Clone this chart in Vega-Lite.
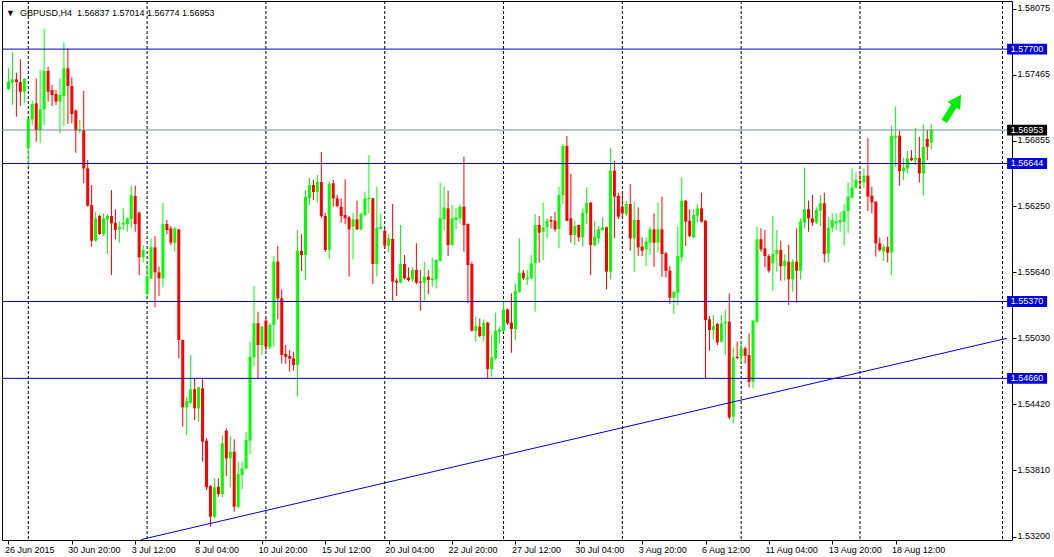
{
  "$schema": "https://vega.github.io/schema/vega-lite/v6.json",
  "autosize": "none",
  "width": 1010,
  "height": 539,
  "padding": {"left": 2, "top": 1, "right": 42, "bottom": 17},
  "background": "white",
  "title": {
    "text": "▼\u00a0\u00a0GBPUSD,H4\u00a0\u00a01.56837 1.57014 1.56774 1.56953",
    "anchor": "start", "frame": "group", "orient": "top", "offset": -24, "dx": 4,
    "font": "Liberation Sans", "fontSize": 9, "fontWeight": "normal", "color": "black", "baseline": "alphabetic"
  },
  "config": {
    "view": {"stroke": "black", "strokeWidth": 1},
    "font": "Liberation Sans"
  },
  "datasets": {
    "candles": [
      {"i":0,"o":1.57332,"h":1.57523,"l":1.57322,"c":1.57399},
      {"i":1,"o":1.57390,"h":1.57670,"l":1.57184,"c":1.57421},
      {"i":2,"o":1.57421,"h":1.57483,"l":1.57076,"c":1.57396},
      {"i":3,"o":1.57396,"h":1.57606,"l":1.57175,"c":1.57307},
      {"i":4,"o":1.57307,"h":1.57436,"l":1.57199,"c":1.57424},
      {"i":5,"o":1.56790,"h":1.57058,"l":1.56615,"c":1.57055},
      {"i":6,"o":1.57052,"h":1.57224,"l":1.56999,"c":1.57193},
      {"i":7,"o":1.57199,"h":1.57430,"l":1.56845,"c":1.56953},
      {"i":8,"o":1.56953,"h":1.57507,"l":1.56830,"c":1.57144},
      {"i":9,"o":1.57144,"h":1.57886,"l":1.56999,"c":1.57498},
      {"i":10,"o":1.57498,"h":1.57538,"l":1.57215,"c":1.57307},
      {"i":11,"o":1.57322,"h":1.57369,"l":1.57175,"c":1.57276},
      {"i":12,"o":1.57286,"h":1.57322,"l":1.57184,"c":1.57215},
      {"i":13,"o":1.57215,"h":1.57430,"l":1.56922,"c":1.57276},
      {"i":14,"o":1.57267,"h":1.57760,"l":1.56990,"c":1.57523},
      {"i":15,"o":1.57523,"h":1.57707,"l":1.57009,"c":1.57359},
      {"i":16,"o":1.57359,"h":1.57439,"l":1.57015,"c":1.57101},
      {"i":17,"o":1.57132,"h":1.57144,"l":1.56744,"c":1.56947},
      {"i":18,"o":1.56947,"h":1.57045,"l":1.56922,"c":1.56959},
      {"i":19,"o":1.56953,"h":1.57316,"l":1.56461,"c":1.56599},
      {"i":20,"o":1.56599,"h":1.56676,"l":1.56245,"c":1.56254},
      {"i":21,"o":1.56261,"h":1.56445,"l":1.55876,"c":1.55931},
      {"i":22,"o":1.55931,"h":1.56199,"l":1.55922,"c":1.56137},
      {"i":23,"o":1.56159,"h":1.56168,"l":1.55984,"c":1.55993},
      {"i":24,"o":1.55993,"h":1.56184,"l":1.55974,"c":1.56137},
      {"i":25,"o":1.56128,"h":1.56177,"l":1.55808,"c":1.56159},
      {"i":26,"o":1.56159,"h":1.56399,"l":1.55614,"c":1.56091},
      {"i":27,"o":1.56097,"h":1.56221,"l":1.55944,"c":1.56030},
      {"i":28,"o":1.56036,"h":1.56107,"l":1.55913,"c":1.56060},
      {"i":29,"o":1.56079,"h":1.56230,"l":1.56030,"c":1.56097},
      {"i":30,"o":1.56085,"h":1.56147,"l":1.56014,"c":1.56137},
      {"i":31,"o":1.56131,"h":1.56436,"l":1.56045,"c":1.56353},
      {"i":32,"o":1.56344,"h":1.56439,"l":1.56014,"c":1.56085},
      {"i":33,"o":1.56190,"h":1.56199,"l":1.55614,"c":1.55777},
      {"i":34,"o":1.55777,"h":1.55891,"l":1.55728,"c":1.55845},
      {"i":35,"o":1.55439,"h":1.55707,"l":1.55399,"c":1.55593},
      {"i":36,"o":1.55583,"h":1.55953,"l":1.55580,"c":1.55870},
      {"i":37,"o":1.55870,"h":1.55974,"l":1.55316,"c":1.55639},
      {"i":38,"o":1.55639,"h":1.55691,"l":1.55420,"c":1.55583},
      {"i":39,"o":1.55583,"h":1.56282,"l":1.55500,"c":1.56085},
      {"i":40,"o":1.56085,"h":1.56122,"l":1.55993,"c":1.56030},
      {"i":41,"o":1.56045,"h":1.56067,"l":1.55891,"c":1.55913},
      {"i":42,"o":1.55913,"h":1.56060,"l":1.55830,"c":1.56045},
      {"i":43,"o":1.56036,"h":1.56040,"l":1.54845,"c":1.55014},
      {"i":44,"o":1.55014,"h":1.55020,"l":1.54214,"c":1.54392},
      {"i":45,"o":1.54392,"h":1.54491,"l":1.54137,"c":1.54451},
      {"i":46,"o":1.54436,"h":1.54876,"l":1.54423,"c":1.54559},
      {"i":47,"o":1.54559,"h":1.54660,"l":1.54275,"c":1.54383},
      {"i":48,"o":1.54383,"h":1.54583,"l":1.54260,"c":1.54577},
      {"i":49,"o":1.54568,"h":1.54651,"l":1.53891,"c":1.54075},
      {"i":50,"o":1.54085,"h":1.54106,"l":1.53629,"c":1.53654},
      {"i":51,"o":1.53666,"h":1.53675,"l":1.53291,"c":1.53383},
      {"i":52,"o":1.53383,"h":1.53737,"l":1.53367,"c":1.53654},
      {"i":53,"o":1.53660,"h":1.53737,"l":1.53568,"c":1.53592},
      {"i":54,"o":1.53592,"h":1.54137,"l":1.53561,"c":1.54060},
      {"i":55,"o":1.54177,"h":1.54199,"l":1.53758,"c":1.53921},
      {"i":56,"o":1.53921,"h":1.54128,"l":1.53654,"c":1.53983},
      {"i":57,"o":1.53983,"h":1.54097,"l":1.53429,"c":1.53475},
      {"i":58,"o":1.53475,"h":1.53891,"l":1.53460,"c":1.53777},
      {"i":59,"o":1.53768,"h":1.53891,"l":1.53635,"c":1.53829},
      {"i":60,"o":1.53829,"h":1.54168,"l":1.53820,"c":1.54091},
      {"i":61,"o":1.54085,"h":1.54999,"l":1.53962,"c":1.54860},
      {"i":62,"o":1.54854,"h":1.55513,"l":1.54774,"c":1.55168},
      {"i":63,"o":1.55168,"h":1.55276,"l":1.54660,"c":1.54968},
      {"i":64,"o":1.54968,"h":1.55143,"l":1.54876,"c":1.55137},
      {"i":65,"o":1.55193,"h":1.55214,"l":1.54916,"c":1.54953},
      {"i":66,"o":1.54946,"h":1.55174,"l":1.54928,"c":1.55153},
      {"i":67,"o":1.55153,"h":1.55790,"l":1.54953,"c":1.55738},
      {"i":68,"o":1.55738,"h":1.55882,"l":1.55205,"c":1.55399},
      {"i":69,"o":1.55399,"h":1.55482,"l":1.54799,"c":1.54876},
      {"i":70,"o":1.54885,"h":1.54968,"l":1.54793,"c":1.54860},
      {"i":71,"o":1.54866,"h":1.54922,"l":1.54722,"c":1.54842},
      {"i":72,"o":1.54845,"h":1.54906,"l":1.54731,"c":1.54783},
      {"i":73,"o":1.54783,"h":1.56030,"l":1.54491,"c":1.55839},
      {"i":74,"o":1.55836,"h":1.55990,"l":1.55651,"c":1.55799},
      {"i":75,"o":1.55799,"h":1.56399,"l":1.55568,"c":1.56335},
      {"i":76,"o":1.56325,"h":1.56510,"l":1.56261,"c":1.56445},
      {"i":77,"o":1.56445,"h":1.56492,"l":1.56307,"c":1.56381},
      {"i":78,"o":1.56381,"h":1.56538,"l":1.56288,"c":1.56473},
      {"i":79,"o":1.56473,"h":1.56750,"l":1.56140,"c":1.56159},
      {"i":80,"o":1.56159,"h":1.56187,"l":1.55827,"c":1.55845},
      {"i":81,"o":1.55845,"h":1.56480,"l":1.55762,"c":1.56455},
      {"i":82,"o":1.56461,"h":1.56492,"l":1.56245,"c":1.56322},
      {"i":83,"o":1.56322,"h":1.56353,"l":1.56239,"c":1.56251},
      {"i":84,"o":1.56245,"h":1.56322,"l":1.56098,"c":1.56159},
      {"i":85,"o":1.56168,"h":1.56498,"l":1.56085,"c":1.56138},
      {"i":86,"o":1.56147,"h":1.56159,"l":1.55599,"c":1.56036},
      {"i":87,"o":1.56061,"h":1.56190,"l":1.55759,"c":1.56128},
      {"i":88,"o":1.56128,"h":1.56301,"l":1.56030,"c":1.56036},
      {"i":89,"o":1.56036,"h":1.56190,"l":1.56024,"c":1.56178},
      {"i":90,"o":1.56168,"h":1.56384,"l":1.56159,"c":1.56322},
      {"i":91,"o":1.56316,"h":1.56722,"l":1.56184,"c":1.56328},
      {"i":92,"o":1.56322,"h":1.56328,"l":1.55531,"c":1.55716},
      {"i":93,"o":1.55716,"h":1.56430,"l":1.55599,"c":1.56051},
      {"i":94,"o":1.56039,"h":1.56184,"l":1.56036,"c":1.56061},
      {"i":95,"o":1.56024,"h":1.56042,"l":1.55861,"c":1.55885},
      {"i":96,"o":1.55885,"h":1.55993,"l":1.55821,"c":1.55953},
      {"i":97,"o":1.55947,"h":1.56270,"l":1.55377,"c":1.55553},
      {"i":98,"o":1.55562,"h":1.55583,"l":1.55420,"c":1.55544},
      {"i":99,"o":1.55544,"h":1.56076,"l":1.55537,"c":1.55716},
      {"i":100,"o":1.55716,"h":1.55799,"l":1.55574,"c":1.55584},
      {"i":101,"o":1.55590,"h":1.55685,"l":1.55553,"c":1.55568},
      {"i":102,"o":1.55574,"h":1.55685,"l":1.55553,"c":1.55660},
      {"i":103,"o":1.55660,"h":1.55907,"l":1.55531,"c":1.55544},
      {"i":104,"o":1.55553,"h":1.55660,"l":1.55285,"c":1.55544},
      {"i":105,"o":1.55544,"h":1.55737,"l":1.55377,"c":1.55599},
      {"i":106,"o":1.55599,"h":1.55660,"l":1.55436,"c":1.55568},
      {"i":107,"o":1.55568,"h":1.55774,"l":1.55507,"c":1.55583},
      {"i":108,"o":1.55574,"h":1.55759,"l":1.55491,"c":1.55753},
      {"i":109,"o":1.55747,"h":1.56467,"l":1.55737,"c":1.56138},
      {"i":110,"o":1.56128,"h":1.56430,"l":1.56030,"c":1.56239},
      {"i":111,"o":1.56230,"h":1.56393,"l":1.55790,"c":1.55891},
      {"i":112,"o":1.55891,"h":1.56261,"l":1.55885,"c":1.56138},
      {"i":113,"o":1.56122,"h":1.56230,"l":1.56036,"c":1.56147},
      {"i":114,"o":1.56138,"h":1.56267,"l":1.56091,"c":1.56245},
      {"i":115,"o":1.56245,"h":1.56707,"l":1.55830,"c":1.56076},
      {"i":116,"o":1.56085,"h":1.56091,"l":1.55353,"c":1.55707},
      {"i":117,"o":1.55716,"h":1.55737,"l":1.55091,"c":1.55100},
      {"i":118,"o":1.55100,"h":1.55230,"l":1.54999,"c":1.55143},
      {"i":119,"o":1.55137,"h":1.55214,"l":1.55039,"c":1.55051},
      {"i":120,"o":1.55051,"h":1.55205,"l":1.54999,"c":1.55174},
      {"i":121,"o":1.55174,"h":1.55183,"l":1.54660,"c":1.54746},
      {"i":122,"o":1.54746,"h":1.55060,"l":1.54675,"c":1.54854},
      {"i":123,"o":1.54845,"h":1.55267,"l":1.54830,"c":1.55100},
      {"i":124,"o":1.55091,"h":1.55137,"l":1.54983,"c":1.55112},
      {"i":125,"o":1.55100,"h":1.55368,"l":1.55091,"c":1.55297},
      {"i":126,"o":1.55297,"h":1.55306,"l":1.55153,"c":1.55168},
      {"i":127,"o":1.55174,"h":1.55445,"l":1.54897,"c":1.55116},
      {"i":128,"o":1.55116,"h":1.55537,"l":1.55014,"c":1.55467},
      {"i":129,"o":1.55460,"h":1.55953,"l":1.55451,"c":1.55636},
      {"i":130,"o":1.55636,"h":1.55660,"l":1.55568,"c":1.55584},
      {"i":131,"o":1.55574,"h":1.55660,"l":1.55522,"c":1.55590},
      {"i":132,"o":1.55584,"h":1.55799,"l":1.55574,"c":1.55722},
      {"i":133,"o":1.55722,"h":1.56178,"l":1.55276,"c":1.56076},
      {"i":134,"o":1.56076,"h":1.56159,"l":1.55728,"c":1.56005},
      {"i":135,"o":1.56014,"h":1.56282,"l":1.55753,"c":1.56055},
      {"i":136,"o":1.56055,"h":1.56138,"l":1.55953,"c":1.56116},
      {"i":137,"o":1.56122,"h":1.56159,"l":1.56045,"c":1.56107},
      {"i":138,"o":1.56116,"h":1.56199,"l":1.56014,"c":1.56036},
      {"i":139,"o":1.56039,"h":1.56430,"l":1.55861,"c":1.56353},
      {"i":140,"o":1.56353,"h":1.56824,"l":1.56270,"c":1.56806},
      {"i":141,"o":1.56806,"h":1.56898,"l":1.56110,"c":1.56116},
      {"i":142,"o":1.56138,"h":1.56547,"l":1.55913,"c":1.55984},
      {"i":143,"o":1.55984,"h":1.56116,"l":1.55891,"c":1.56067},
      {"i":144,"o":1.56076,"h":1.56080,"l":1.55922,"c":1.55962},
      {"i":145,"o":1.55962,"h":1.56230,"l":1.55876,"c":1.56190},
      {"i":146,"o":1.56184,"h":1.56424,"l":1.56085,"c":1.56282},
      {"i":147,"o":1.56282,"h":1.56290,"l":1.55614,"c":1.55891},
      {"i":148,"o":1.55891,"h":1.56116,"l":1.55876,"c":1.55968},
      {"i":149,"o":1.55953,"h":1.56067,"l":1.55907,"c":1.56036},
      {"i":150,"o":1.56030,"h":1.56147,"l":1.56024,"c":1.56055},
      {"i":151,"o":1.56055,"h":1.56061,"l":1.55482,"c":1.55645},
      {"i":152,"o":1.55645,"h":1.56784,"l":1.55574,"c":1.56578},
      {"i":153,"o":1.56578,"h":1.56670,"l":1.55953,"c":1.56338},
      {"i":154,"o":1.56344,"h":1.56375,"l":1.56128,"c":1.56153},
      {"i":155,"o":1.56245,"h":1.56375,"l":1.56147,"c":1.56184},
      {"i":156,"o":1.56178,"h":1.56301,"l":1.56159,"c":1.56270},
      {"i":157,"o":1.56270,"h":1.56455,"l":1.55839,"c":1.55953},
      {"i":158,"o":1.55953,"h":1.56291,"l":1.55645,"c":1.56122},
      {"i":159,"o":1.56122,"h":1.56239,"l":1.55790,"c":1.55870},
      {"i":160,"o":1.55876,"h":1.55962,"l":1.55790,"c":1.55839},
      {"i":161,"o":1.55851,"h":1.55962,"l":1.55697,"c":1.55922},
      {"i":162,"o":1.55913,"h":1.56061,"l":1.55799,"c":1.56036},
      {"i":163,"o":1.56036,"h":1.56184,"l":1.55691,"c":1.55913},
      {"i":164,"o":1.55913,"h":1.56282,"l":1.55820,"c":1.56036},
      {"i":165,"o":1.56036,"h":1.56338,"l":1.55599,"c":1.55808},
      {"i":166,"o":1.55814,"h":1.55829,"l":1.55593,"c":1.55654},
      {"i":167,"o":1.55654,"h":1.55696,"l":1.55347,"c":1.55405},
      {"i":168,"o":1.55405,"h":1.55465,"l":1.55254,"c":1.55460},
      {"i":169,"o":1.55451,"h":1.56061,"l":1.55337,"c":1.55790},
      {"i":170,"o":1.55778,"h":1.56516,"l":1.55737,"c":1.56301},
      {"i":171,"o":1.56301,"h":1.56305,"l":1.55882,"c":1.56107},
      {"i":172,"o":1.56116,"h":1.56221,"l":1.55962,"c":1.55974},
      {"i":173,"o":1.55962,"h":1.56221,"l":1.55953,"c":1.56168},
      {"i":174,"o":1.56162,"h":1.56270,"l":1.56098,"c":1.56230},
      {"i":175,"o":1.56230,"h":1.56375,"l":1.56098,"c":1.56107},
      {"i":176,"o":1.56116,"h":1.56120,"l":1.54660,"c":1.55199},
      {"i":177,"o":1.55205,"h":1.55236,"l":1.54916,"c":1.55106},
      {"i":178,"o":1.55106,"h":1.55245,"l":1.55020,"c":1.55143},
      {"i":179,"o":1.55162,"h":1.55174,"l":1.54968,"c":1.54993},
      {"i":180,"o":1.54999,"h":1.55245,"l":1.54990,"c":1.55168},
      {"i":181,"o":1.55168,"h":1.55291,"l":1.54876,"c":1.55183},
      {"i":182,"o":1.55183,"h":1.55445,"l":1.54281,"c":1.54300},
      {"i":183,"o":1.54306,"h":1.54946,"l":1.54245,"c":1.54854},
      {"i":184,"o":1.54860,"h":1.54999,"l":1.54836,"c":1.54848},
      {"i":185,"o":1.54866,"h":1.55008,"l":1.54799,"c":1.54937},
      {"i":186,"o":1.54937,"h":1.54953,"l":1.54799,"c":1.54869},
      {"i":187,"o":1.54875,"h":1.55075,"l":1.54577,"c":1.54629},
      {"i":188,"o":1.54629,"h":1.55199,"l":1.54568,"c":1.55193},
      {"i":189,"o":1.55183,"h":1.56061,"l":1.55174,"c":1.55944},
      {"i":190,"o":1.55944,"h":1.56045,"l":1.55829,"c":1.55851},
      {"i":191,"o":1.55860,"h":1.56030,"l":1.55685,"c":1.55790},
      {"i":192,"o":1.55790,"h":1.55808,"l":1.55636,"c":1.55654},
      {"i":193,"o":1.55722,"h":1.56159,"l":1.55469,"c":1.55808},
      {"i":194,"o":1.55808,"h":1.56030,"l":1.55645,"c":1.55845},
      {"i":195,"o":1.55845,"h":1.55931,"l":1.55562,"c":1.55696},
      {"i":196,"o":1.55696,"h":1.55808,"l":1.55562,"c":1.55746},
      {"i":197,"o":1.55737,"h":1.55892,"l":1.55337,"c":1.55574},
      {"i":198,"o":1.55574,"h":1.55759,"l":1.55460,"c":1.55737},
      {"i":199,"o":1.55737,"h":1.56045,"l":1.55358,"c":1.55654},
      {"i":200,"o":1.55654,"h":1.56138,"l":1.55574,"c":1.56107},
      {"i":201,"o":1.56098,"h":1.56608,"l":1.56045,"c":1.56221},
      {"i":202,"o":1.56221,"h":1.56301,"l":1.56014,"c":1.56138},
      {"i":203,"o":1.56138,"h":1.56353,"l":1.56067,"c":1.56098},
      {"i":204,"o":1.56098,"h":1.56239,"l":1.56085,"c":1.56215},
      {"i":205,"o":1.56208,"h":1.56353,"l":1.56067,"c":1.56276},
      {"i":206,"o":1.56276,"h":1.56375,"l":1.55728,"c":1.55808},
      {"i":207,"o":1.55814,"h":1.56153,"l":1.55731,"c":1.56051},
      {"i":208,"o":1.56051,"h":1.56184,"l":1.56014,"c":1.56122},
      {"i":209,"o":1.56091,"h":1.56184,"l":1.56030,"c":1.56107},
      {"i":210,"o":1.56101,"h":1.56199,"l":1.56014,"c":1.56122},
      {"i":211,"o":1.56107,"h":1.56267,"l":1.55885,"c":1.56205},
      {"i":212,"o":1.56205,"h":1.56470,"l":1.55999,"c":1.56338},
      {"i":213,"o":1.56328,"h":1.56599,"l":1.56322,"c":1.56421},
      {"i":214,"o":1.56421,"h":1.56562,"l":1.56415,"c":1.56492},
      {"i":215,"o":1.56482,"h":1.56553,"l":1.56408,"c":1.56470},
      {"i":216,"o":1.56470,"h":1.56599,"l":1.56415,"c":1.56532},
      {"i":217,"o":1.56532,"h":1.56882,"l":1.56205,"c":1.56338},
      {"i":218,"o":1.56347,"h":1.56430,"l":1.56184,"c":1.56285},
      {"i":219,"o":1.56291,"h":1.56295,"l":1.55784,"c":1.55907},
      {"i":220,"o":1.55907,"h":1.55959,"l":1.55830,"c":1.55845},
      {"i":221,"o":1.55830,"h":1.55898,"l":1.55744,"c":1.55876},
      {"i":222,"o":1.55876,"h":1.55968,"l":1.55731,"c":1.55820},
      {"i":223,"o":1.55823,"h":1.56993,"l":1.55614,"c":1.56901},
      {"i":224,"o":1.56883,"h":1.57169,"l":1.56615,"c":1.56901},
      {"i":225,"o":1.56901,"h":1.56944,"l":1.56441,"c":1.56573},
      {"i":226,"o":1.56573,"h":1.56698,"l":1.56490,"c":1.56605},
      {"i":227,"o":1.56599,"h":1.56759,"l":1.56552,"c":1.56690},
      {"i":228,"o":1.56696,"h":1.56768,"l":1.56665,"c":1.56674},
      {"i":229,"o":1.56674,"h":1.56973,"l":1.56628,"c":1.56696},
      {"i":230,"o":1.56696,"h":1.56890,"l":1.56468,"c":1.56552},
      {"i":231,"o":1.56552,"h":1.57005,"l":1.56347,"c":1.56798},
      {"i":232,"o":1.56870,"h":1.56953,"l":1.56674,"c":1.56798},
      {"i":233,"o":1.56837,"h":1.57014,"l":1.56774,"c":1.56953}
    ],
    "levels": [
      {"p":1.57700,"k":"line"},
      {"p":1.56953,"k":"bid"},
      {"p":1.56644,"k":"line"},
      {"p":1.55370,"k":"line"},
      {"p":1.54660,"k":"line"}
    ],
    "grid": [{"g":5},{"g":35},{"g":65},{"g":95},{"g":125},{"g":155},{"g":185},{"g":215},{"g":251}],
    "trend": [{"i":33.5,"p":1.53172},{"i":252.1,"p":1.5503}]
  },
  "layer": [
    {
      "data": {"name": "grid"},
      "mark": {"type": "rule", "color": "black", "strokeWidth": 1, "strokeDash": [3, 2]},
      "encoding": {
        "x": {"field": "g", "type": "quantitative",
          "scale": {"domain": [-0.375, 252.125], "nice": false, "zero": false},
          "axis": {"orient": "bottom", "values": [0,16,32,48,64,80,96,112,128,144,160,176,192,208,224],
            "labelExpr": "['26 Jun 2015','30 Jun 20:00','3 Jul 12:00','8 Jul 04:00','10 Jul 20:00','15 Jul 12:00','20 Jul 04:00','22 Jul 20:00','27 Jul 12:00','30 Jul 04:00','3 Aug 20:00','6 Aug 12:00','11 Aug 04:00','13 Aug 20:00','18 Aug 12:00'][round(datum.value/16)]",
            "labelAlign": "left", "labelBaseline": "top", "labelPadding": 1, "labelOffset": -4, "tickSize": 4, "tickColor": "black",
            "labelFont": "Liberation Sans", "labelFontSize": 9, "labelColor": "black",
            "domain": false, "grid": false, "title": null, "labelOverlap": false, "labelFlush": false}}
      }
    },
    {
      "data": {"name": "candles"},
      "mark": {"type": "rule", "strokeWidth": 1},
      "encoding": {
        "x": {"field": "i", "type": "quantitative"},
        "y": {"field": "h", "type": "quantitative",
          "scale": {"domain": [1.531677, 1.581443], "nice": false, "zero": false},
          "axis": {"orient": "right",
            "values": [1.532,1.53505,1.5381,1.54115,1.5442,1.54725,1.5503,1.55335,1.5564,1.55945,1.5625,1.56555,1.56855,1.5716,1.57465,1.5777,1.58075],
            "format": ".5f", "labelAlign": "left", "labelBaseline": "middle", "labelOffset": -1, "labelPadding": 1,
            "tickSize": 4, "tickColor": "black", "labelFont": "Liberation Sans", "labelFontSize": 9, "labelColor": "black",
            "domain": false, "grid": false, "title": null, "labelOverlap": false, "labelFlush": false}},
        "y2": {"field": "l"},
        "color": {"condition": {"test": "datum.c >= datum.o", "value": "#00ff00"}, "value": "#ff0000"}
      }
    },
    {
      "data": {"name": "candles"},
      "mark": {"type": "bar", "width": 3},
      "encoding": {
        "x": {"field": "i", "type": "quantitative"},
        "y": {"field": "o", "type": "quantitative"},
        "y2": {"field": "c"},
        "color": {"condition": {"test": "datum.c >= datum.o", "value": "#00ff00"}, "value": "#ff0000"}
      }
    },
    {
      "data": {"name": "trend"},
      "mark": {"type": "line", "color": "#0000cc", "strokeWidth": 1, "clip": true},
      "encoding": {
        "x": {"field": "i", "type": "quantitative"},
        "y": {"field": "p", "type": "quantitative"}
      }
    },
    {
      "data": {"name": "levels"},
      "mark": {"type": "rule", "strokeWidth": 1},
      "encoding": {
        "y": {"field": "p", "type": "quantitative"},
        "stroke": {"field": "k", "type": "nominal", "scale": {"domain": ["line", "bid"], "range": ["#0000b0", "#778899"]}, "legend": null}
      }
    },
    {
      "data": {"name": "levels"},
      "mark": {"type": "point", "shape": "M-1,-0.27H1V0.27H-1Z", "size": 1600, "filled": true, "opacity": 1, "strokeWidth": 0, "clip": false},
      "encoding": {
        "x": {"datum": 257.2},
        "y": {"field": "p", "type": "quantitative"},
        "fill": {"field": "k", "type": "nominal", "scale": {"domain": ["line", "bid"], "range": ["#0000dd", "#000000"]}, "legend": null}
      }
    },
    {
      "data": {"name": "levels"},
      "mark": {"type": "text", "color": "white", "font": "Liberation Sans", "fontSize": 9, "align": "center", "baseline": "middle", "clip": false},
      "encoding": {
        "x": {"datum": 257.2},
        "y": {"field": "p", "type": "quantitative"},
        "text": {"field": "p", "type": "quantitative", "format": ".5f"}
      }
    },
    {
      "data": {"values": [{"label": "arrow"}]},
      "mark": {"type": "point", "shape": "M-0.2,1L0.2,1L0.2,-0.15L0.47,-0.15L0,-1L-0.47,-0.15L-0.2,-0.15Z", "size": 1000, "filled": true, "opacity": 1, "color": "#00ee00", "angle": 32, "strokeWidth": 0},
      "encoding": {
        "x": {"datum": 238.4},
        "y": {"datum": 1.57156}
      }
    }
  ]
}
